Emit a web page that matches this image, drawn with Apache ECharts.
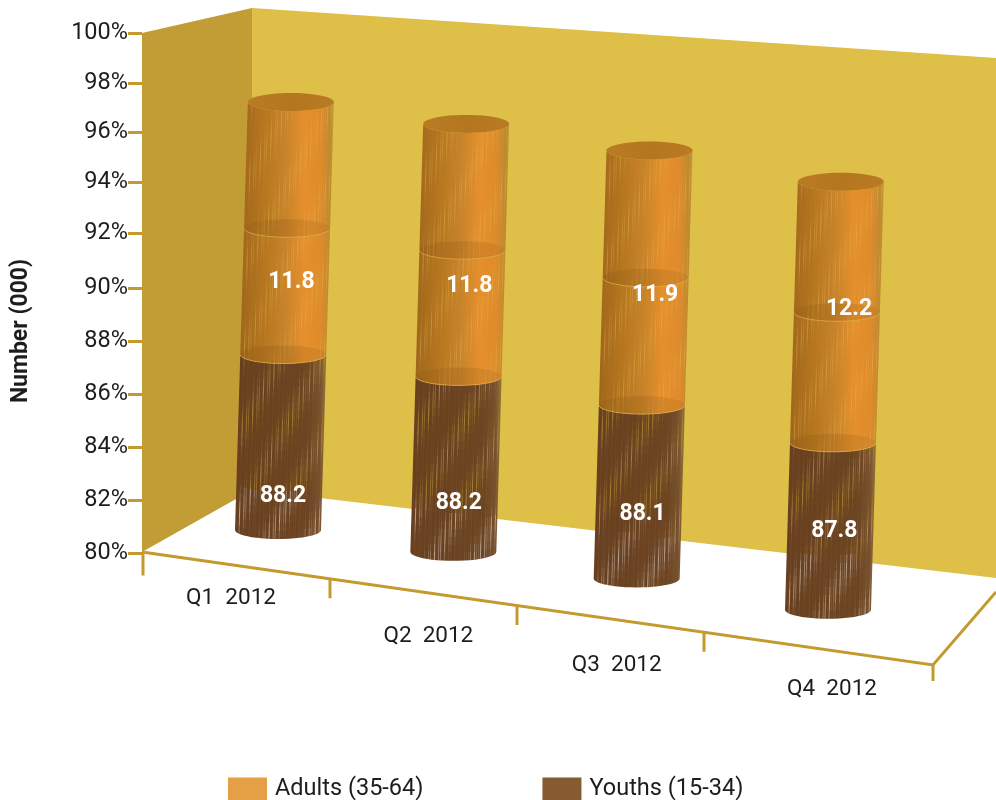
<!DOCTYPE html>
<html>
<head>
<meta charset="utf-8">
<style>html,body{margin:0;padding:0;background:#fff}#chart{width:996px;height:800px}</style>
<script src="https://cdn.jsdelivr.net/npm/echarts@6/dist/echarts.min.js"></script>
</head>
<body>
<div id="chart"></div>
<script>
// Workforce share by age band, per quarter
const categories = ['Q1  2012', 'Q2  2012', 'Q3  2012', 'Q4  2012'];
const youths = [88.2, 88.2, 88.1, 87.8];
const adults = [11.8, 11.8, 11.9, 12.2];
const axisTicks = [80, 82, 84, 86, 88, 90, 92, 94, 96, 98, 100];
const axisTickShift = [0, 0.04, 0.08, 0.12, 0.15, 0.19, 0.31, 0.27, 0.19, 0.08, 0];

const FONT = 'Roboto, sans-serif';
const TEXT = '#1d1d1b';
const GOLD = '#C49A2E';
const AXIS_MIN = 80;
const RX = 43, RY = 9;

// Oblique projection: an axis coordinate is carried onto the receding floor
function project(api, i, v) {
  const c = api.coord([i, v]);
  const base = api.coord([i, AXIS_MIN]);
  const t = i / (categories.length - 1);
  const h = (base[1] - c[1]) * 0.823;
  const fx = 278 + 550 * t - 36 * t * (1 - t);
  const fy = 530 + 0.145 * (fx - 278) - 16 * t * (1 - t);
  return [fx + 0.03 * h, fy - h];
}

// Back-wall foot line, used to tell what shows through the cylinder's grain
function wallFoot(x) { return 490 + (x - 252) * 0.1183; }

function frontArc(c, reverse) {
  const pts = [];
  for (let k = 0; k <= 24; k++) {
    const a = Math.PI * k / 24;
    pts.push([c[0] - RX * Math.cos(a), c[1] + RY * Math.sin(a)]);
  }
  return reverse ? pts.reverse() : pts;
}
function ellipsePts(c) {
  const pts = [];
  for (let k = 0; k < 48; k++) {
    const a = 2 * Math.PI * k / 48;
    pts.push([c[0] + RX * Math.cos(a), c[1] + RY * Math.sin(a)]);
  }
  return pts;
}
function hGrad(stops) {
  return new echarts.graphic.LinearGradient(0, 0, 1, 0,
    stops.map(s => ({ offset: s[0], color: s[1] })));
}

const ORANGE_BODY = [[0, '#A0661B'], [0.25, '#B5761F'], [0.5, '#C9842A'], [0.68, '#E58F2C'],
                     [0.86, '#DE8B2B'], [0.96, '#BE8A30'], [1, 'rgba(190,140,50,0.8)']];
const BROWN_BODY = [[0, '#68401F'], [0.8, '#6C4422'], [0.93, '#77502D'], [1, 'rgba(122,88,52,0.72)']];

// Fine vertical grain with slanted bands, letting the backdrop glint through
function grain(bottom, top, lightColor, strength) {
  const out = [];
  const rows = Math.max(4, Math.round((bottom[1] - top[1]) / 8));
  for (let dx = -RX + 2; dx < RX - 1; dx += 2) {
    const n = dx / RX;
    const bulge = RY * Math.sqrt(1 - n * n);
    const col = Math.sin(dx * 1.9) * 0.5 + 0.5;
    if (col < 0.22) continue;
    for (let r = 0; r < rows; r++) {
      const u0 = r / rows, u1 = (r + 1) / rows;
      const y0 = bottom[1] + bulge + (top[1] - bottom[1]) * u0;
      const y1 = bottom[1] + bulge + (top[1] - bottom[1]) * u1;
      const x0 = bottom[0] + dx + (top[0] - bottom[0]) * u0;
      const x1 = bottom[0] + dx + (top[0] - bottom[0]) * u1;
      const band = Math.sin((dx * 0.15) + (y0 * 0.075)) * 0.5 + 0.5;
      const alpha = strength * col * (0.08 + 0.92 * band * band);
      const over = typeof lightColor === 'function' ? lightColor(x0, y0) : lightColor;
      out.push({
        type: 'line', silent: true,
        shape: { x1: x0, y1: y0, x2: x1, y2: y1 },
        style: { stroke: over, lineWidth: 1, opacity: alpha }
      });
    }
  }
  return out;
}

function bodyPoly(bottom, top, fill) {
  return {
    type: 'polygon', silent: true,
    shape: { points: frontArc(top).concat(frontArc(bottom, true)) },
    style: { fill: fill }
  };
}
function seam(c) {
  return [
    { type: 'polygon', silent: true, shape: { points: ellipsePts(c) },
      style: { fill: hGrad([[0, 'rgba(120,75,20,0.16)'], [0.5, 'rgba(150,90,20,0.28)'], [1, 'rgba(160,100,30,0.18)']]) } },
    { type: 'polyline', silent: true, shape: { points: frontArc(c) },
      style: { stroke: '#E2B04F', lineWidth: 1, fill: null, opacity: 0.7 } }
  ];
}
function valueLabel(api, i, v, text, dx) {
  const p = project(api, i, v);
  return {
    type: 'text', z2: 50, silent: true,
    style: {
      text: text, x: p[0] + dx, y: p[1], align: 'center', verticalAlign: 'middle',
      fill: '#fff', font: 'bold 23px ' + FONT
    }
  };
}

function renderYouths(params, api) {
  const i = params.dataIndex;
  const b = project(api, i, AXIS_MIN);
  const t = project(api, i, youths[i]);
  const through = (x, y) => (y > wallFoot(x) ? '#FFFFFF' : '#DEBF47');
  const children = [bodyPoly(b, t, hGrad(BROWN_BODY))]
    .concat(grain(b, t, through, 0.55));
  children.push(valueLabel(api, i, AXIS_MIN + 1.6 + i * 0.69, String(youths[i]), 4));
  return { type: 'group', children: children };
}

function renderAdults(params, api) {
  const i = params.dataIndex;
  const start = youths[i];
  const end = youths[i] + adults[i];
  const b = project(api, i, start);
  const t = project(api, i, end);
  const m = project(api, i, start + adults[i] / 2);
  const children = [bodyPoly(b, t, hGrad(ORANGE_BODY))]
    .concat(grain(b, t, '#EFBE5A', 0.42))
    .concat(seam(b))
    .concat(seam(m));
  children.push({
    type: 'polygon', silent: true, shape: { points: ellipsePts(t) },
    style: { fill: hGrad([[0, '#B97C24'], [0.5, '#B4761F'], [1, '#B87B24']]) }
  });
  children.push(valueLabel(api, i, AXIS_MIN + 11.6 + i * 0.81, String(adults[i]), 6 + i * 2));
  return { type: 'group', children: children };
}

// Floor ticks and quarter names along the front edge
function renderFloorAxis(params, api) {
  const i = params.dataIndex;
  const band = api.size([1, 0])[0];
  const tickX = api.coord([i, AXIS_MIN])[0] - band / 2;
  const edgeY = 552.5 + 0.143 * (tickX - 142);
  const t = i / (categories.length - 1);
  return {
    type: 'group',
    children: [
      { type: 'line', silent: true,
        shape: { x1: tickX + 1, y1: edgeY, x2: tickX + 1, y2: edgeY + (i ? 19 : 23) },
        style: { stroke: GOLD, lineWidth: 3 } },
      { type: 'text', silent: true,
        style: {
          text: categories[i],
          x: 231 + 601 * t + (40.5 - 162 * t) * t * (1 - t),
          y: 598.5 + 91 * t + (40.8 - 18.6 * t) * t * (1 - t),
          align: 'center', verticalAlign: 'middle', fill: TEXT, font: '22.5px ' + FONT
        } }
    ]
  };
}

const chart = echarts.init(document.getElementById('chart'));
chart.setOption({
  animation: false,
  backgroundColor: '#fff',
  grid: { left: 142, top: 33, width: 748, height: 520, containLabel: false },
  xAxis: {
    type: 'category', data: categories,
    axisLine: { show: false }, axisTick: { show: false }, axisLabel: { show: false }
  },
  yAxis: {
    type: 'value', min: AXIS_MIN, max: 100, interval: 2,
    name: 'Number (000)', nameLocation: 'middle', nameRotate: 90, nameGap: 109,
    nameTextStyle: { fontFamily: FONT, fontWeight: 'bold', fontSize: 23, color: TEXT, padding: [0, 76, 0, 0] },
    axisLine: { show: false },
    splitLine: { show: false },
    axisTick: {
      show: true, length: 14,
      customValues: axisTicks.map((v, k) => v + axisTickShift[k]),
      lineStyle: { color: GOLD, width: 3 }
    },
    axisLabel: {
      fontFamily: FONT, fontSize: 23.5, color: TEXT, margin: 14, padding: [0, 0, 2, 0],
      customValues: axisTicks.map((v, k) => v + axisTickShift[k]),
      formatter: v => Math.round(v / 2) * 2 + '%'
    }
  },
  legend: {
    data: ['Adults (35-64)', 'Youths (15-34)'],
    left: 228, top: 777, padding: 0, itemWidth: 39, itemHeight: 23, itemGap: 119, icon: 'rect',
    textStyle: { fontFamily: FONT, fontSize: 23.5, color: TEXT, padding: [-6, 0, 0, 3] },
    selectedMode: false
  },
  graphic: {
    elements: [
      { type: 'polygon', silent: true, z: 0,
        shape: { points: [[252, 8], [996, 58], [996, 578], [252, 490]] }, style: { fill: '#DEBF47' } },
      { type: 'polygon', silent: true, z: 0,
        shape: { points: [[142, 33], [252, 8], [252, 490], [142, 552]] }, style: { fill: '#C29C35' } },
      { type: 'polyline', silent: true, z: 0,
        shape: { points: [[142, 552], [933, 665], [996, 592]] },
        style: { stroke: GOLD, lineWidth: 3, fill: null } },
      { type: 'line', silent: true, z: 0,
        shape: { x1: 933, y1: 665, x2: 933, y2: 681 },
        style: { stroke: GOLD, lineWidth: 3 } }
    ]
  },
  series: [
    { type: 'custom', name: 'Quarters', z: 2, renderItem: renderFloorAxis, silent: true,
      data: categories.map((c, i) => [i, AXIS_MIN]) },
    { type: 'custom', name: 'Youths (15-34)', z: 3, renderItem: renderYouths, silent: true,
      itemStyle: { color: '#865B30' }, data: youths.map((v, i) => [i, v]) },
    { type: 'custom', name: 'Adults (35-64)', z: 4, renderItem: renderAdults, silent: true,
      itemStyle: { color: '#E59F45' }, data: adults.map((v, i) => [i, youths[i] + v]) }
  ]
});
</script>
</body>
</html>
